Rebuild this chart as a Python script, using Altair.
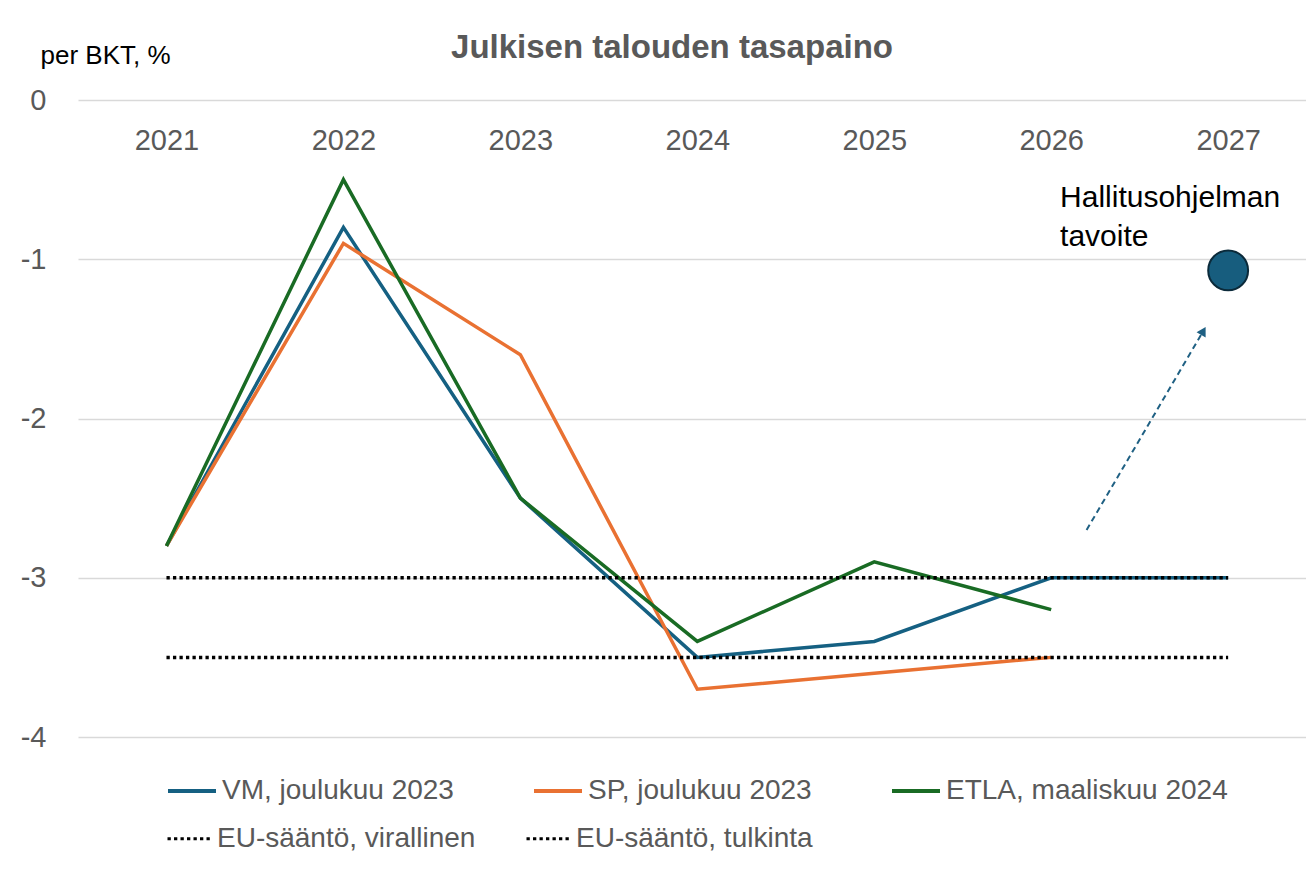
import altair as alt
import pandas as pd

# ---- data ----
years = [2021, 2022, 2023, 2024, 2025, 2026, 2027]
vm = [-2.8, -0.8, -2.5, -3.5, -3.4, -3.0, -3.0]
sp = [-2.8, -0.9, -1.6, -3.7, -3.6, -3.5, None]
etla = [-2.8, -0.5, -2.5, -3.4, -2.9, -3.2, None]
series_names = ["VM, joulukuu 2023", "SP, joulukuu 2023", "ETLA, maaliskuu 2024"]
series_colors = ["#156082", "#E97132", "#196B24"]
eu_names = ["EU-sääntö, virallinen", "EU-sääntö, tulkinta"]
eu_values = [-3.0, -3.5]
goal_year = [2027]
goal_value = [-1.07]
goal_label = ["Hallitusohjelman\ntavoite"]
label_year = [2026.05]
label_value = [-0.67]
arrow_from = [2026.2, -2.70]
arrow_to = [2026.86, -1.45]
y_ticks = [0, -1, -2, -3, -4]

# ---- tables ----
rows = []
for name, vals in zip(series_names, [vm, sp, etla]):
    for yr, v in zip(years, vals):
        if v is not None:
            rows.append({"year": yr, "value": v, "series": name})
df_series = pd.DataFrame(rows)

eu_rows = []
for name, v in zip(eu_names, eu_values):
    for yr in years:
        eu_rows.append({"year": yr, "value": v, "rule": name})
df_eu = pd.DataFrame(eu_rows)

df_arrow = pd.DataFrame({"year": [arrow_from[0]], "value": [arrow_from[1]],
                         "year2": [arrow_to[0]], "value2": [arrow_to[1]]})
df_head = pd.DataFrame({"year": [arrow_to[0]], "value": [arrow_to[1]]})
df_goal = pd.DataFrame({"year": goal_year, "value": goal_value})
df_label = pd.DataFrame({"year": label_year, "value": label_value, "label": goal_label})

FONT = "Liberation Sans"
GRAY = "#595959"

xscale = alt.Scale(domain=[2020.5, 2027.44], nice=False, zero=False)
yscale = alt.Scale(domain=[-4, 0], nice=False, zero=False)

xaxis = alt.Axis(orient="top", values=years, format="d", labelPadding=-40,
                 labelBaseline="middle", ticks=False, tickSize=0, domain=False,
                 grid=False, labelFontSize=29, labelColor=GRAY, labelFont=FONT,
                 labelFlush=False, title=None)
yaxis = alt.Axis(values=y_ticks,
                 labelExpr="datum.value == 0 ? '0' : '-' + abs(datum.value)",
                 labelPadding=32, labelFontSize=29, labelColor=GRAY, labelFont=FONT,
                 ticks=False, domain=False, grid=True, gridColor="#d9d9d9",
                 gridWidth=1.5, title="per BKT, %", titleAngle=0, titleAlign="left",
                 titleBaseline="alphabetic", titleX=-38, titleY=-37,
                 titleFontSize=26, titleFontWeight="normal", titleColor="black",
                 titleFont=FONT)

X = alt.X("year:Q", scale=xscale, axis=xaxis)
Y = alt.Y("value:Q", scale=yscale, axis=yaxis)

lines = alt.Chart(df_series).mark_line(strokeWidth=3.5).encode(
    x=X, y=Y,
    color=alt.Color("series:N", scale=alt.Scale(domain=series_names, range=series_colors),
                    legend=alt.Legend(title=None, orient="none", legendX=88, legendY=665,
                                      direction="horizontal", columnPadding=72,
                                      symbolType="stroke", symbolSize=2304,
                                      symbolStrokeWidth=4, labelFontSize=28,
                                      labelColor=GRAY, labelFont=FONT, labelOffset=4,
                                      labelLimit=500, padding=0)),
)

eu = alt.Chart(df_eu).mark_line(strokeWidth=3.5, color="black").encode(
    x=X, y=Y,
    strokeDash=alt.StrokeDash("rule:N",
                              scale=alt.Scale(domain=eu_names, range=[[3.3, 3.2], [3.3, 3.2]]),
                              legend=alt.Legend(title=None, orient="none", legendX=88, legendY=715,
                                                direction="horizontal", columnPadding=44,
                                                symbolType="stroke", symbolSize=1936,
                                                symbolStrokeWidth=3, symbolStrokeColor="black",
                                                labelFontSize=28, labelColor=GRAY,
                                                labelFont=FONT, labelOffset=4,
                                                labelLimit=500, padding=0)),
)

arrow = alt.Chart(df_arrow).mark_rule(strokeWidth=2, strokeDash=[6, 4], color="#1f6083").encode(
    x=X, y=Y, x2="year2:Q", y2="value2:Q"
)
head = alt.Chart(df_head).mark_point(shape="triangle-up", filled=True, size=110, angle=30,
                                     color="#1f6083", opacity=1).encode(x=X, y=Y)

goal = alt.Chart(df_goal).mark_point(shape="circle", filled=True, size=1590, fill="#175d7e",
                                     stroke="#0b2a3a", strokeWidth=2, opacity=1).encode(x=X, y=Y)

label = alt.Chart(df_label).mark_text(align="left", baseline="alphabetic", fontSize=30,
                                      lineBreak="\n", lineHeight=39, font=FONT,
                                      color="black").encode(x=X, y=Y, text="label:N")

chart = alt.layer(lines, eu, arrow, head, goal, label).properties(
    width=1228, height=637,
    title=alt.TitleParams("Julkisen talouden tasapaino", fontSize=33, fontWeight="bold",
                          color=GRAY, font=FONT, anchor="middle", dx=-20, dy=27),
    autosize=alt.AutoSizeParams(type="none"),
    padding={"left": 70, "top": 92, "right": 0, "bottom": 124},
    background="white",
).configure_view(stroke=None)

chart.save("out.html", embed_options={"renderer": "svg", "actions": False})
